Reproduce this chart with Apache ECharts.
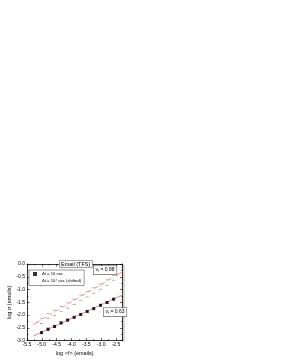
<!DOCTYPE html>
<html><head><meta charset="utf-8">
<script src="https://cdn.jsdelivr.net/npm/echarts@6/dist/echarts.min.js"></script>
<style>html,body{margin:0;padding:0;background:#fff}#c{width:281px;height:364px}</style>
</head><body><div id="c"></div>
<script>
// Data (log10 values)
const xVals = [-5.01, -4.79, -4.57, -4.35, -4.13, -3.91, -3.69, -3.47, -3.25, -3.02, -2.80, -2.58];
const sec10 = [-2.69, -2.56, -2.45, -2.31, -2.20, -2.09, -1.98, -1.86, -1.75, -1.62, -1.51, -1.38];
const sec10Err = [0.04, 0.04, 0.04, 0.04, 0.03, 0.03, 0.03, 0.03, 0.03, 0.03, 0.03, 0.03];
const sec1e4 = [-2.23, -2.04, -1.92, -1.76, -1.63, -1.49, -1.32, -1.19, -1.04, -0.89, -0.73, -0.54];
const sec1e4Err = [0.10, 0.10, 0.10, 0.10, 0.10, 0.10, 0.10, 0.10, 0.10, 0.10, 0.10, 0.09];
const fitX = [-5.28, -2.28];
const fitLow = [-2.82, -1.21];
const fitHigh = [-2.37, -0.31];
const xTicks = ['-5.5','-5.0','-4.5','-4.0','-3.5','-3.0','-2.5'];
const yTicks = ['-3.0','-2.5','-2.0','-1.5','-1.0','-0.5','0.0'];

const F = 'Liberation Sans, Arial, sans-serif';
const pairs = (xs, ys) => xs.map((x, i) => [x, ys[i]]);
const errData = (ys, es) => xVals.map((x, i) => [x, ys[i] - es[i], ys[i] + es[i]]);
function errRender(params, api) {
  const x = api.value(0), lo = api.value(1), hi = api.value(2);
  const p1 = api.coord([x, lo]), p2 = api.coord([x, hi]);
  const w = 1.5;
  const st = {stroke: '#555', lineWidth: 0.6, fill: null};
  return {type: 'group', children: [
    {type: 'line', shape: {x1: p1[0], y1: p1[1], x2: p2[0], y2: p2[1]}, style: st},
    {type: 'line', shape: {x1: p1[0]-w, y1: p1[1], x2: p1[0]+w, y2: p1[1]}, style: st},
    {type: 'line', shape: {x1: p2[0]-w, y1: p2[1], x2: p2[0]+w, y2: p2[1]}, style: st}
  ]};
}
const isMajor = v => Math.abs(v * 2 - Math.round(v * 2)) < 1e-6;
const axisCommon = {
  type: 'value',
  axisLine: {show: true, onZero: false, lineStyle: {color: '#000', width: 0.8}},
  axisTick: {show: true, inside: true, length: 2.5, lineStyle: {color: '#000', width: 0.6}},
  minorTick: {show: true, splitNumber: 2, length: 1.5, lineStyle: {color: '#000', width: 0.5}},
  splitLine: {show: false}
};
const chart = echarts.init(document.getElementById('c'), null, {renderer: 'canvas'});
chart.setOption({
  animation: false,
  backgroundColor: '#fff',
  title: {
    text: 'Email (TFS)', left: 59, top: 260,
    padding: [1, 2], borderColor: '#888', borderWidth: 0.8, backgroundColor: '#fff',
    textStyle: {fontFamily: F, fontSize: 5.5, fontWeight: 'normal', color: '#000'}
  },
  legend: {
    left: 29, top: 270, orient: 'vertical', itemGap: 1.5, itemWidth: 4, itemHeight: 4,
    padding: [2, 3], borderColor: '#555', borderWidth: 0.6, backgroundColor: '#fff',
    textStyle: {fontFamily: F, fontSize: 4.2, color: '#000', padding: [0, 0, 0, 0]},
    data: [
      {name: 'Δt = 10 sec', icon: 'rect'},
      {name: 'Δt = 10⁴ sec (shifted)', icon: 'emptyCircle'}
    ]
  },
  grid: {left: 27, right: 158.5, top: 264, bottom: 23.5},
  xAxis: [
    Object.assign({}, axisCommon, {
      min: -5.5, max: -2.28, interval: 0.5, position: 'bottom',
      name: 'log <f> (emails)', nameLocation: 'middle', nameGap: 10,
      nameTextStyle: {fontFamily: F, fontSize: 5.5, color: '#000'},
      axisLabel: {fontFamily: F, fontSize: 5, color: '#000', margin: 2,
        formatter: v => isMajor(v) ? xTicks[Math.round((v + 5.5) * 2)] : ''}
    }),
    Object.assign({}, axisCommon, {
      min: -5.5, max: -2.28, interval: 0.5, position: 'top', axisLabel: {show: false}
    })
  ],
  yAxis: [
    Object.assign({}, axisCommon, {
      min: -3, max: 0, interval: 0.5, position: 'left',
      name: 'log σ (emails)', nameLocation: 'middle', nameGap: 13,
      nameTextStyle: {fontFamily: F, fontSize: 5.5, color: '#000'},
      axisLabel: {fontFamily: F, fontSize: 5, color: '#000', margin: 2,
        formatter: v => isMajor(v) ? yTicks[Math.round((v + 3) * 2)] : ''}
    }),
    Object.assign({}, axisCommon, {
      min: -3, max: 0, interval: 0.5, position: 'right', axisLabel: {show: false}
    })
  ],
  graphic: [
    {type: 'rect', left: 123, top: 265, z: 0, shape: {width: 1.8, height: 77}, style: {fill: '#d4d4d4'}},
    {type: 'text', left: 93, top: 265.5, z: 100, style: {
      text: 'ν{s|t} = 0.88', font: '5px ' + F, fill: '#000',
      backgroundColor: '#fff', borderColor: '#555', borderWidth: 0.6, padding: [1, 2],
      rich: {s: {fontSize: 3.5, fontFamily: F, verticalAlign: 'bottom', padding: [2, 0, 0, 0]}}
    }},
    {type: 'text', left: 103, top: 307.5, z: 100, style: {
      text: 'ν{s|t} = 0.63', font: '5px ' + F, fill: '#000',
      backgroundColor: '#fff', borderColor: '#555', borderWidth: 0.6, padding: [1, 2],
      rich: {s: {fontSize: 3.5, fontFamily: F, verticalAlign: 'bottom', padding: [2, 0, 0, 0]}}
    }}
  ],
  series: [
    {type: 'line', data: pairs(fitX, fitLow), symbol: 'none', silent: true,
      lineStyle: {color: '#f08a8a', width: 1}, z: 1},
    {type: 'line', data: pairs(fitX, fitHigh), symbol: 'none', silent: true,
      lineStyle: {color: '#f08a8a', width: 1}, z: 1},
    {type: 'custom', data: errData(sec10, sec10Err), renderItem: errRender, z: 2, silent: true},
    {type: 'custom', data: errData(sec1e4, sec1e4Err), renderItem: errRender, z: 2, silent: true},
    {name: 'Δt = 10 sec', type: 'scatter', data: pairs(xVals, sec10), symbol: 'rect', symbolSize: 3,
      itemStyle: {color: '#000'}, z: 3},
    {name: 'Δt = 10⁴ sec (shifted)', type: 'scatter', data: pairs(xVals, sec1e4), symbol: 'emptyCircle', symbolSize: 3,
      itemStyle: {color: '#fff', borderColor: '#666', borderWidth: 0.6}, z: 3}
  ]
});
</script></body></html>
